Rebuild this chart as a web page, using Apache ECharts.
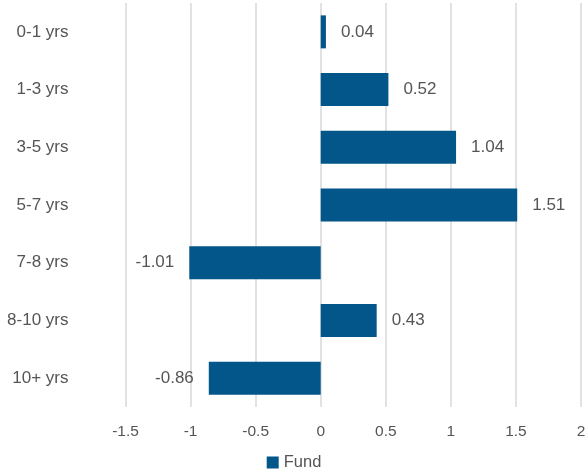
<!DOCTYPE html>
<html>
<head>
<meta charset="utf-8">
<script src="https://cdn.jsdelivr.net/npm/echarts@6/dist/echarts.min.js"></script>
<style>
  html, body { margin: 0; padding: 0; background: #fff; }
  #chart { width: 588px; height: 470px; }
</style>
</head>
<body>
<div id="chart"></div>
<script>
// duration buckets and fund contribution
var categories = ['0-1 yrs', '1-3 yrs', '3-5 yrs', '5-7 yrs', '7-8 yrs', '8-10 yrs', '10+ yrs'];
var fundValues = [0.04, 0.52, 1.04, 1.51, -1.01, 0.43, -0.86];
var seriesName = 'Fund';

var font = '"Liberation Sans", Arial, sans-serif';
var textColor = '#555555';

var chart = echarts.init(document.getElementById('chart'));

var option = {
  animation: false,
  grid: {
    left: 125.5,
    right: 7,
    top: 3,
    bottom: 63,
    outerBoundsMode: 'none'
  },
  legend: {
    data: [seriesName],
    left: 'center',
    top: 449,
    icon: 'rect',
    itemWidth: 12,
    itemHeight: 12,
    itemGap: 4,
    textStyle: { color: textColor, fontSize: 16.5, fontFamily: font }
  },
  xAxis: {
    type: 'value',
    min: -1.5,
    max: 2,
    interval: 0.5,
    axisLine: { show: false },
    axisTick: { show: false },
    axisLabel: {
      color: textColor,
      fontSize: 15.5,
      fontFamily: font,
      margin: 17
    },
    splitLine: {
      show: true,
      lineStyle: { color: '#d9d9d9', width: 1.5 }
    }
  },
  yAxis: {
    type: 'category',
    data: categories,
    inverse: true,
    axisLine: { show: false },
    axisTick: { show: false },
    axisLabel: {
      color: textColor,
      fontSize: 17,
      fontFamily: font,
      margin: 57
    }
  },
  series: [
    {
      name: seriesName,
      type: 'bar',
      barWidth: 33,
      itemStyle: { color: '#02568a' },
      // labels go outside the bar end, on whichever side it points
      data: fundValues.map(function (v) {
        return {
          value: v,
          label: { position: v < 0 ? 'left' : 'right' }
        };
      }),
      label: {
        show: true,
        distance: 15,
        color: textColor,
        fontSize: 17,
        fontFamily: font,
        formatter: function (p) { return p.value.toFixed(2); }
      }
    }
  ]
};

chart.setOption(option);
</script>
</body>
</html>
